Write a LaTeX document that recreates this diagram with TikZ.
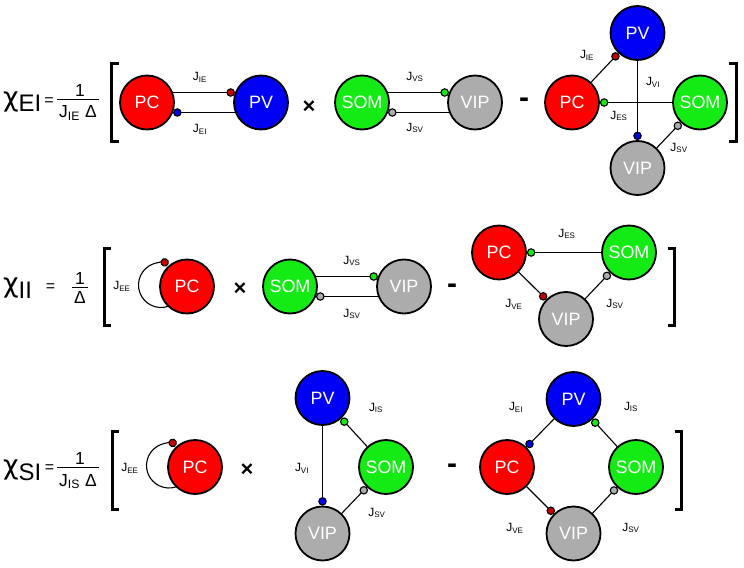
\documentclass[tikz,border=0pt]{standalone}
\usepackage{fontspec}
\setmainfont{Liberation Sans}
\newfontfamily\greekFont{DejaVu Sans}
\usetikzlibrary{arrows.meta}

\definecolor{pcRed}{RGB}{255,0,0}
\definecolor{pvBlue}{RGB}{0,0,245}
\definecolor{somGreen}{RGB}{20,235,20}
\definecolor{vipGray}{RGB}{172,172,172}
\definecolor{dotRed}{RGB}{200,0,0}

\newcommand{\eiY}{-102.5}
\newcommand{\iiY}{-286.5}
\newcommand{\siY}{-467}
\newcommand{\loopRadius}{22.5bp}
\newcommand{\chiName}[1]{{\greekFont\fontsize{27}{27}\selectfont\raisebox{0.22em}{χ}}{\fontsize{24}{24}\selectfont #1}}
\newcommand{\synLabel}[1]{J\textsubscript{#1}}

\tikzset{
  cell/.style={circle, draw=black, line width=1.8bp, minimum size=54bp, inner sep=0pt,
    text=white, font=\fontsize{18}{18}\selectfont},
  pcCell/.style={cell, fill=pcRed},
  pvCell/.style={cell, fill=pvBlue},
  somCell/.style={cell, fill=somGreen},
  vipCell/.style={cell, fill=vipGray},
  syn/.style={line width=1.1bp, draw=black, -{Circle[length=8.5bp, fill=#1]}},
  fromPc/.style={syn=dotRed},
  fromPv/.style={syn=pvBlue},
  fromSom/.style={syn=somGreen},
  fromVip/.style={syn=vipGray},
  jLabel/.style={inner sep=0pt, font=\fontsize{12}{12}\selectfont},
  chiText/.style={inner sep=0pt, anchor=base west},
  eqSign/.style={inner sep=0pt, anchor=base, font=\fontsize{16}{16}\selectfont},
  fracPart/.style={inner sep=0pt, anchor=base, font=\fontsize{17.5}{17.5}\selectfont},
  fracBar/.style={line width=1.2bp},
  opSign/.style={inner sep=0pt, anchor=base, font=\bfseries\fontsize{22}{22}\selectfont},
  minusSign/.style={inner sep=0pt, anchor=base, font=\bfseries\fontsize{30}{30}\selectfont},
  bracket/.style={line width=3bp},
}

\begin{document}
\begin{tikzpicture}[x=1bp, y=1bp]
    \useasboundingbox (0,0) rectangle (744,-568);

    % Formula chi_EI
    \node[chiText] (eiChi) at (3,-112) {\chiName{EI}};
    \node[eqSign] (eiEq) at (49,-106) {=};
    \node[fracPart] (eiNum) at (80,-97) {1};
    \node[fracPart] (eiDen) at (78,-118) {\synLabel{IE}\hspace{0.3em}Δ};
    \draw[fracBar] ([xshift=-1.5bp,yshift=6bp]eiDen.north west) -- ([xshift=1.5bp,yshift=6bp]eiDen.north east);
    \draw[bracket] (118.5,-63.5) -| (111.5,-141.5) -- (118.5,-141.5);

    % PC-PV pair
    \node[pcCell] (eiPairPc) at (147,\eiY) {PC};
    \node[pvCell] (eiPairPv) at (261,\eiY) {PV};
    \draw[fromPc] (eiPairPc.21) -- (eiPairPv.159);
    \draw[fromPv] (eiPairPv.-159) -- (eiPairPc.-21);
    \node[jLabel] (eiPairJie) at (200,-77) {\synLabel{IE}};
    \node[jLabel] (eiPairJei) at (200,-129) {\synLabel{EI}};

    \node[opSign] (eiTimes) at (309,-114) {×};

    % SOM-VIP pair
    \node[somCell] (eiPairSom) at (362,\eiY) {SOM};
    \node[vipCell] (eiPairVip) at (475,\eiY) {VIP};
    \draw[fromSom] (eiPairSom.21) -- (eiPairVip.159);
    \draw[fromVip] (eiPairVip.-159) -- (eiPairSom.-21);
    \node[jLabel] (eiPairJvs) at (415,-77) {\synLabel{VS}};
    \node[jLabel] (eiPairJsv) at (415,-128) {\synLabel{SV}};

    \node[minusSign] (eiMinus) at (524,-108) {-};

    % Four cell loop
    \node[pcCell] (eiNetPc) at (572,\eiY) {PC};
    \node[pvCell] (eiNetPv) at (637.5,-33) {PV};
    \node[somCell] (eiNetSom) at (700,\eiY) {SOM};
    \node[vipCell] (eiNetVip) at (637.5,-168) {VIP};
    \draw[fromPc] (eiNetPc) -- (eiNetPv);
    \draw[fromPv] (eiNetPv) -- (eiNetVip);
    \draw[fromSom] (eiNetSom) -- (eiNetPc);
    \draw[fromVip] (eiNetVip) -- (eiNetSom);
    \node[jLabel] (eiNetJie) at (587,-55) {\synLabel{IE}};
    \node[jLabel] (eiNetJvi) at (653,-82) {\synLabel{VI}};
    \node[jLabel] (eiNetJes) at (619,-116) {\synLabel{ES}};
    \node[jLabel] (eiNetJsv) at (679,-148) {\synLabel{SV}};
    \draw[bracket] (729,-63.5) -| (736.5,-141.5) -- (729,-141.5);

    % Formula chi_II
    \node[chiText] (iiChi) at (3,-298) {\chiName{II}};
    \node[eqSign] (iiEq) at (50.5,-291.6) {=};
    \node[fracPart] (iiNum) at (80,-284) {1};
    \node[fracPart] (iiDen) at (80,-303.5) {Δ};
    \draw[fracBar] ([xshift=-2bp,yshift=4bp]iiDen.north west) -- ([xshift=2bp,yshift=4bp]iiDen.north east);
    \draw[bracket] (111,-248.5) -| (104.5,-325.5) -- (111,-325.5);

    % PC self loop
    \node[pcCell] (iiPc) at (187,\iiY) {PC};
    \coordinate (iiLoop) at ([shift={(-26bp,1.5bp)}]iiPc.center);
    \draw[fromPc] ([shift={(290:\loopRadius)}]iiLoop) arc[start angle=290, end angle=70, radius=\loopRadius];
    \node[jLabel] (iiJee) at (122,-286) {\synLabel{EE}};

    \node[opSign] (iiTimes) at (240,-295) {×};

    % SOM-VIP pair
    \node[somCell] (iiPairSom) at (290,\iiY) {SOM};
    \node[vipCell] (iiPairVip) at (404,\iiY) {VIP};
    \draw[fromSom] (iiPairSom.21) -- (iiPairVip.159);
    \draw[fromVip] (iiPairVip.-159) -- (iiPairSom.-21);
    \node[jLabel] (iiPairJvs) at (352,-261) {\synLabel{VS}};
    \node[jLabel] (iiPairJsv) at (352,-314) {\synLabel{SV}};

    \node[minusSign] (iiMinus) at (452,-293) {-};

    % Three cell loop
    \node[pcCell] (iiNetPc) at (499,-252.5) {PC};
    \node[somCell] (iiNetSom) at (629,-252.5) {SOM};
    \node[vipCell] (iiNetVip) at (566,-319) {VIP};
    \draw[fromSom] (iiNetSom) -- (iiNetPc);
    \draw[fromPc] (iiNetPc) -- (iiNetVip);
    \draw[fromVip] (iiNetVip) -- (iiNetSom);
    \node[jLabel] (iiNetJes) at (567,-234) {\synLabel{ES}};
    \node[jLabel] (iiNetJve) at (514,-304) {\synLabel{VE}};
    \node[jLabel] (iiNetJsv) at (615,-304) {\synLabel{SV}};
    \draw[bracket] (668,-248.5) -| (674.5,-325.5) -- (668,-325.5);

    % Formula chi_SI
    \node[chiText] (siChi) at (3,-480) {\chiName{SI}};
    \node[eqSign] (siEq) at (49.5,-472.6) {=};
    \node[fracPart] (siNum) at (80,-464.5) {1};
    \node[fracPart] (siDen) at (78,-486) {\synLabel{IS}\hspace{0.3em}Δ};
    \draw[fracBar] ([xshift=-1.5bp,yshift=6bp]siDen.north west) -- ([xshift=1.5bp,yshift=6bp]siDen.north east);
    \draw[bracket] (119,-431.5) -| (112.5,-509.5) -- (119,-509.5);

    % PC self loop
    \node[pcCell] (siPc) at (195,\siY) {PC};
    \coordinate (siLoop) at ([shift={(-26bp,1.5bp)}]siPc.center);
    \draw[fromPc] ([shift={(290:\loopRadius)}]siLoop) arc[start angle=290, end angle=70, radius=\loopRadius];
    \node[jLabel] (siJee) at (130,-468) {\synLabel{EE}};

    \node[opSign] (siTimes) at (247,-476) {×};

    % PV-SOM-VIP loop
    \node[pvCell] (siMidPv) at (322.5,-398) {PV};
    \node[somCell] (siMidSom) at (386,\siY) {SOM};
    \node[vipCell] (siMidVip) at (322.5,-533.5) {VIP};
    \draw[fromPv] (siMidPv) -- (siMidVip);
    \draw[fromSom] (siMidSom) -- (siMidPv);
    \draw[fromVip] (siMidVip) -- (siMidSom);
    \node[jLabel] (siMidJvi) at (302,-468) {\synLabel{VI}};
    \node[jLabel] (siMidJis) at (376,-408) {\synLabel{IS}};
    \node[jLabel] (siMidJsv) at (377,-513) {\synLabel{SV}};

    \node[minusSign] (siMinus) at (452,-473) {-};

    % Four cell ring
    \node[pcCell] (siNetPc) at (507,\siY) {PC};
    \node[pvCell] (siNetPv) at (573.5,-399) {PV};
    \node[somCell] (siNetSom) at (636,\siY) {SOM};
    \node[vipCell] (siNetVip) at (573.5,-533.5) {VIP};
    \draw[fromPv] (siNetPv) -- (siNetPc);
    \draw[fromSom] (siNetSom) -- (siNetPv);
    \draw[fromPc] (siNetPc) -- (siNetVip);
    \draw[fromVip] (siNetVip) -- (siNetSom);
    \node[jLabel] (siNetJei) at (516,-407) {\synLabel{EI}};
    \node[jLabel] (siNetJis) at (631,-407) {\synLabel{IS}};
    \node[jLabel] (siNetJve) at (515,-528) {\synLabel{VE}};
    \node[jLabel] (siNetJsv) at (631,-528) {\synLabel{SV}};
    \draw[bracket] (675,-431.5) -| (681.5,-509.5) -- (675,-509.5);
\end{tikzpicture}
\end{document}
